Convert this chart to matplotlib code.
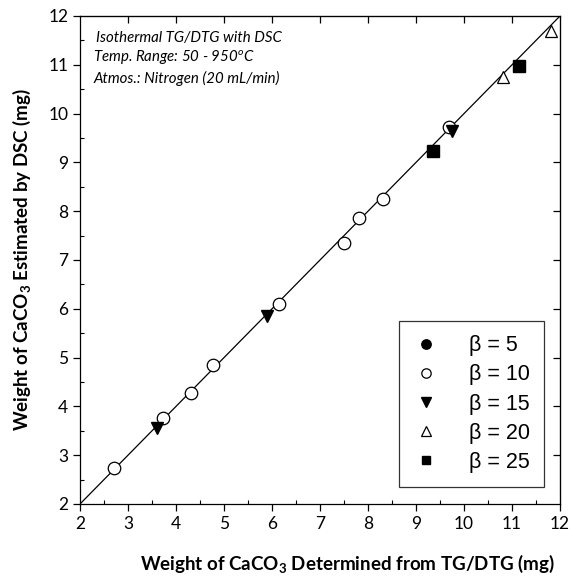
import numpy as np
import matplotlib.pyplot as plt
from matplotlib.ticker import MultipleLocator

# beta = 5 (no points visible in the chart)
x_b5 = []
y_b5 = []

# beta = 10
x_b10 = [2.71, 3.73, 4.31, 4.77, 6.15, 7.51, 7.81, 8.31, 9.69]
y_b10 = [2.73, 3.76, 4.27, 4.84, 6.10, 7.34, 7.87, 8.24, 9.72]

# beta = 15
x_b15 = [3.60, 5.90, 9.74]
y_b15 = [3.55, 5.85, 9.65]

# beta = 20
x_b20 = [10.82, 11.81]
y_b20 = [10.74, 11.70]

# beta = 25
x_b25 = [9.35, 11.15]
y_b25 = [9.23, 10.98]

fit_x = [2, 12]
fit_y = [2, 12]

calibri = ["Lato", "DejaVu Sans"]
arial = ["Liberation Sans", "DejaVu Sans"]

fig = plt.figure(figsize=(5.72, 5.84), dpi=100)
ax = fig.add_axes([80 / 572, 1 - 504 / 584, 480 / 572, 488 / 584])

ax.plot(fit_x, fit_y, color="black", lw=0.9, zorder=1)

ms = 9
ax.plot(x_b5, y_b5, "o", color="black", ms=ms, ls="none", label="β = 5")
ax.plot(x_b10, y_b10, "o", mfc="white", mec="black", mew=0.9, ms=ms, ls="none", label="β = 10")
ax.plot(x_b15, y_b15, "v", color="black", ms=ms, ls="none", label="β = 15")
ax.plot(x_b20, y_b20, "^", mfc="white", mec="black", mew=0.9, ms=ms, ls="none", label="β = 20")
ax.plot(x_b25, y_b25, "s", color="black", ms=ms - 1, ls="none", label="β = 25")

ax.set_xlim(2, 12)
ax.set_ylim(2, 12)
ax.xaxis.set_major_locator(MultipleLocator(1))
ax.yaxis.set_major_locator(MultipleLocator(1))
ax.xaxis.set_minor_locator(MultipleLocator(0.5))
ax.yaxis.set_minor_locator(MultipleLocator(0.5))

ax.tick_params(which="major", direction="out", length=5, width=0.9, top=False, right=False)
ax.tick_params(which="minor", direction="in", length=3, width=0.8, top=False, right=False)
ax2 = ax.secondary_xaxis("top")
ax2.set_xticks(range(3, 12))
ax2.tick_params(direction="in", length=5, width=0.9, labeltop=False)
ax3 = ax.secondary_yaxis("right")
ax3.set_yticks(range(3, 12))
ax3.tick_params(direction="in", length=5, width=0.9, labelright=False)

for lab in ax.get_xticklabels() + ax.get_yticklabels():
    lab.set_family(calibri)
    lab.set_fontsize(12.5)

for s in ax.spines.values():
    s.set_linewidth(0.9)

ax.set_xlabel(r"Weight of CaCO$_\mathregular{3}$ Determined from TG/DTG (mg)",
              family=calibri, fontsize=13.5, fontweight="bold")
ax.xaxis.set_label_coords(0.557, -0.1)
ax.set_ylabel(r"Weight of CaCO$_\mathregular{3}$ Estimated by DSC (mg)",
              family=calibri, fontsize=13.5, fontweight="bold", labelpad=11)

note_kw = dict(transform=ax.transAxes, family=calibri, style="italic", fontsize=10.8, va="center")
ax.text(0.033, 0.955, "Isothermal TG/DTG with DSC", **note_kw)
ax.text(0.028, 0.914, r"Temp. Range: 50 - 950$^\mathregular{o}$C", **note_kw)
ax.text(0.028, 0.872, "Atmos.: Nitrogen (20 mL/min)", **note_kw)

leg = ax.legend(loc="lower right", bbox_to_anchor=(0.967, 0.035), frameon=True,
                fancybox=False, edgecolor="black", markerscale=0.75,
                prop={"family": arial, "size": 15.5}, handlelength=1.2,
                handletextpad=1.4, labelspacing=0.38, borderpad=0.65, borderaxespad=0)
leg.get_frame().set_linewidth(0.9)

fig.savefig("out.png", dpi=100)
